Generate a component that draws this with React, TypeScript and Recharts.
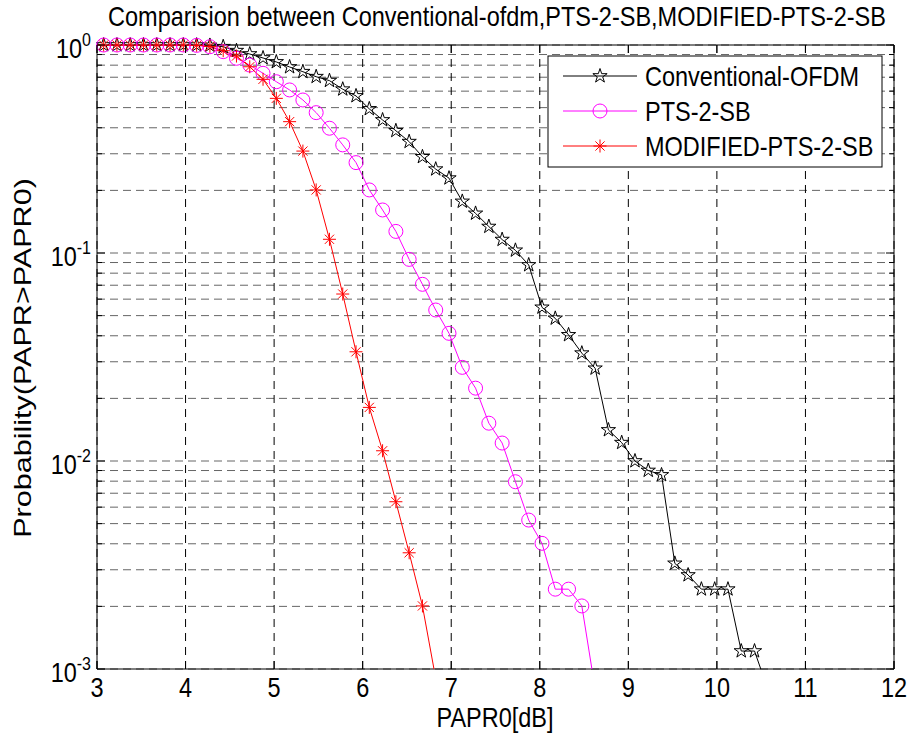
import React from "react";
import {
  LineChart,
  Line,
  XAxis,
  YAxis,
  CartesianGrid,
  ReferenceArea,
} from "recharts";

// PAPR0 sample points (dB)
const papr = [
  3.075, 3.225, 3.375, 3.525, 3.675, 3.825, 3.975, 4.125, 4.275, 4.425,
  4.575, 4.725, 4.875, 5.025, 5.175, 5.325, 5.475, 5.625, 5.775, 5.925,
  6.075, 6.225, 6.375, 6.525, 6.675, 6.825, 6.975, 7.125, 7.275, 7.425,
  7.575, 7.725, 7.875, 8.025, 8.175, 8.325, 8.475, 8.625, 8.775, 8.925,
  9.075, 9.225, 9.375, 9.525, 9.675, 9.825, 9.975, 10.125, 10.275, 10.425,
  10.575,
];

const conventional = [
  1, 1, 1, 1, 1, 1, 1, 0.999, 0.995, 0.981,
  0.939, 0.905, 0.866, 0.829, 0.784, 0.744, 0.704, 0.674, 0.613, 0.569,
  0.493, 0.436, 0.387, 0.343, 0.29, 0.253, 0.229, 0.177, 0.155, 0.134,
  0.116, 0.103, 0.0876, 0.0548, 0.0485, 0.0404, 0.033, 0.0279, 0.0141, 0.01225,
  0.01, 0.009, 0.00857, 0.00322, 0.00283, 0.00242, 0.00242, 0.00242, 0.00122, 0.00122,
  0.0008,
];

const pts2sb = [
  1, 1, 1, 1, 1, 1, 1, 0.996, 0.981, 0.929,
  0.863, 0.801, 0.731, 0.666, 0.608, 0.544, 0.473, 0.398, 0.331, 0.272,
  0.201, 0.161, 0.127, 0.0932, 0.0707, 0.0532, 0.0411, 0.0282, 0.0224, 0.0152,
  0.0122, 0.00795, 0.0052, 0.00402, 0.00242, 0.00242, 0.00201, 0.0008,
];

const modifiedPts2sb = [
  1, 1, 1, 1, 1, 1, 1, 0.997, 0.985, 0.939,
  0.885, 0.786, 0.684, 0.554, 0.428, 0.309, 0.201, 0.1164, 0.0635, 0.0335,
  0.0181, 0.0112, 0.00637, 0.00362, 0.00201, 0.0009,
];

const xTicks = [3, 4, 5, 6, 7, 8, 9, 10, 11, 12];
const yTicks = [
  0.001, 0.002, 0.003, 0.004, 0.005, 0.006, 0.007, 0.008, 0.009,
  0.01, 0.02, 0.03, 0.04, 0.05, 0.06, 0.07, 0.08, 0.09,
  0.1, 0.2, 0.3, 0.4, 0.5, 0.6, 0.7, 0.8, 0.9, 1,
];
const decades = [1, 0.1, 0.01, 0.001];
const decadeExp = ["0", "-1", "-2", "-3"];

const W = 910;
const H = 733;
const PLOT = { left: 97, top: 45, right: 894, bottom: 669 };
const FONT = "'Liberation Sans', Arial, Helvetica, sans-serif";
const FS = 23.5;
const STRETCH = 1.2;

const FLOOR = 0.001;
const shown = (v?: number) => (v != null && v >= FLOOR ? v : null);

const rows = papr.map((x, i) => ({
  x,
  conv: conventional[i] ?? null,
  pts: pts2sb[i] ?? null,
  mod: modifiedPts2sb[i] ?? null,
  convM: shown(conventional[i]),
  ptsM: shown(pts2sb[i]),
  modM: shown(modifiedPts2sb[i]),
}));

type MarkProps = { cx: number; cy: number; color: string };

function StarMark({ cx, cy, color }: MarkProps) {
  const pts: string[] = [];
  for (let i = 0; i < 10; i++) {
    const a = -Math.PI / 2 + (i * Math.PI) / 5;
    const r = i % 2 === 0 ? 7.5 : 7.5 * 0.382;
    pts.push(`${cx + r * Math.cos(a)},${cy + r * Math.sin(a)}`);
  }
  return <polygon points={pts.join(" ")} fill="none" stroke={color} strokeWidth={1} />;
}

function CircleMark({ cx, cy, color }: MarkProps) {
  return <circle cx={cx} cy={cy} r={7} fill="none" stroke={color} strokeWidth={1} />;
}

function AsteriskMark({ cx, cy, color }: MarkProps) {
  const a = 6.5;
  const d = 4.6;
  return (
    <g stroke={color} strokeWidth={1}>
      <line x1={cx - a} y1={cy} x2={cx + a} y2={cy} />
      <line x1={cx} y1={cy - a} x2={cx} y2={cy + a} />
      <line x1={cx - d} y1={cy - d} x2={cx + d} y2={cy + d} />
      <line x1={cx - d} y1={cy + d} x2={cx + d} y2={cy - d} />
    </g>
  );
}

const markerDot =
  (Mark: (p: MarkProps) => React.ReactElement, color: string) =>
  (props: any) => {
    const { cx, cy, index, value } = props;
    if (cx == null || cy == null || value == null || Number.isNaN(cy)) {
      return <g key={`m-${index}`} />;
    }
    return (
      <g key={`m-${index}`}>
        <Mark cx={cx} cy={cy} color={color} />
      </g>
    );
  };

const series = [
  { key: "conv", name: "Conventional-OFDM", color: "#000000", Mark: StarMark },
  { key: "pts", name: "PTS-2-SB", color: "#ff00ff", Mark: CircleMark },
  { key: "mod", name: "MODIFIED-PTS-2-SB", color: "#ff0000", Mark: AsteriskMark },
];

function XTick(props: any) {
  const { x, payload } = props;
  const y = PLOT.bottom;
  return (
    <g>
      <line x1={x} y1={y} x2={x} y2={y - 8} stroke="#000" />
      <line x1={x} y1={PLOT.top} x2={x} y2={PLOT.top + 8} stroke="#000" />
      <text
        transform={`translate(${x},${y + 28}) scale(1,${STRETCH})`}
        textAnchor="middle"
        fontSize={FS}
        fontFamily={FONT}
        fill="#000"
      >
        {payload.value}
      </text>
    </g>
  );
}

function YTick(props: any) {
  const { y, payload } = props;
  const x = PLOT.left;
  const k = decades.indexOf(payload.value);
  const len = k >= 0 ? 8 : 5;
  return (
    <g>
      <line x1={x} y1={y} x2={x + len} y2={y} stroke="#000" />
      <line x1={PLOT.right} y1={y} x2={PLOT.right - len} y2={y} stroke="#000" />
      {k >= 0 && (
        <text
          transform={`translate(${x - 6},${y}) scale(1,${STRETCH})`}
          y={11}
          textAnchor="end"
          fontSize={FS}
          fontFamily={FONT}
          fill="#000"
        >
          10
          <tspan dy={-10} fontSize={16}>
            {decadeExp[k]}
          </tspan>
        </text>
      )}
    </g>
  );
}

const hLine = (p: any) => (
  <line
    key={p.key}
    x1={p.x1}
    y1={p.y1}
    x2={p.x2}
    y2={p.y2}
    stroke="#666"
    strokeWidth={1}
    strokeDasharray="8 5"
  />
);

const vLine = (p: any) => (
  <line
    key={p.key}
    x1={p.x1}
    y1={p.y1}
    x2={p.x2}
    y2={p.y2}
    stroke="#000"
    strokeWidth={1}
    strokeDasharray="8 6"
  />
);

function Overlay() {
  const legendRows = [76, 111, 146];
  return (
    <svg
      width={W}
      height={H}
      style={{ position: "absolute", left: 0, top: 0, pointerEvents: "none" }}
    >
      <text
        transform={`translate(497,26) scale(1,${STRETCH})`}
        textAnchor="middle"
        fontSize={FS}
        fontFamily={FONT}
        fill="#000"
      >
        Comparision between Conventional-ofdm,PTS-2-SB,MODIFIED-PTS-2-SB
      </text>
      <text
        transform={`translate(495,727) scale(1,${STRETCH})`}
        textAnchor="middle"
        fontSize={FS}
        fontFamily={FONT}
        fill="#000"
      >
        PAPR0[dB]
      </text>
      <text
        transform={`translate(31,358) scale(1,1.3) rotate(-90)`}
        textAnchor="middle"
        fontSize={FS}
        fontFamily={FONT}
        fill="#000"
      >
        Probability(PAPR&gt;PAPR0)
      </text>
      <rect x={548} y={56} width={334} height={111} fill="#fff" stroke="#000" strokeWidth={1} />
      {series.map((s, i) => (
        <g key={s.key}>
          <line x1={563} y1={legendRows[i]} x2={637} y2={legendRows[i]} stroke={s.color} strokeWidth={1} />
          <s.Mark cx={600} cy={legendRows[i]} color={s.color} />
          <text
            transform={`translate(645,${legendRows[i] + 10}) scale(1,${STRETCH})`}
            fontSize={FS}
            fontFamily={FONT}
            fill="#000"
          >
            {s.name}
          </text>
        </g>
      ))}
    </svg>
  );
}

export default function App() {
  return (
    <div style={{ position: "absolute", left: 0, top: 0, width: W, height: H, background: "#fff" }}>
      <LineChart
        width={W}
        height={H}
        data={rows}
        margin={{ top: PLOT.top, right: W - PLOT.right, bottom: 0, left: 0 }}
      >
        <CartesianGrid
          yAxisId="main"
          horizontal={hLine}
          vertical={vLine}
        />
        <XAxis
          dataKey="x"
          type="number"
          domain={[3, 12]}
          ticks={xTicks}
          interval={0}
          height={H - PLOT.bottom}
          tickSize={0}
          tickMargin={0}
          axisLine={false}
          tick={<XTick />}
        />
        <YAxis
          yAxisId="main"
          type="number"
          scale="log"
          domain={[0.001, 1]}
          ticks={yTicks}
          interval={0}
          width={PLOT.left}
          tickSize={0}
          tickMargin={0}
          axisLine={false}
          tick={<YTick />}
        />
        <YAxis
          yAxisId="clip"
          type="number"
          scale="log"
          domain={[0.001, 1]}
          allowDataOverflow
          hide
        />
        {series.map((s) => (
          <Line
            key={s.key}
            yAxisId="clip"
            type="linear"
            dataKey={s.key}
            stroke={s.color}
            strokeWidth={1}
            dot={false}
            activeDot={false}
            isAnimationActive={false}
          />
        ))}
        {series.map((s) => (
          <Line
            key={`${s.key}M`}
            yAxisId="main"
            type="linear"
            dataKey={`${s.key}M`}
            stroke="none"
            dot={markerDot(s.Mark, s.color)}
            activeDot={false}
            isAnimationActive={false}
          />
        ))}
        <ReferenceArea
          yAxisId="main"
          x1={3}
          x2={12}
          y1={0.001}
          y2={1}
          fill="none"
          fillOpacity={0}
          stroke="#000"
          strokeWidth={1}
        />
      </LineChart>
      <Overlay />
    </div>
  );
}
